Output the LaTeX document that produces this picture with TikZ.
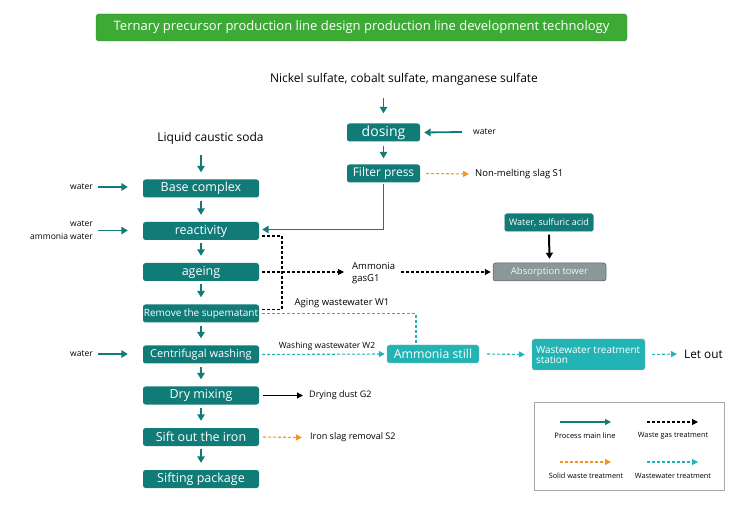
\documentclass[tikz,border=0pt]{standalone}
\usepackage{fontspec}
\setmainfont{Open Sans}
\usetikzlibrary{arrows.meta}
\definecolor{tealbox}{HTML}{117B78}
\definecolor{cyanbox}{HTML}{22B4B4}
\definecolor{titlegreen}{HTML}{3DAA35}
\definecolor{greybox}{HTML}{8A9898}
\definecolor{orangeline}{HTML}{F7941D}
\definecolor{legendborder}{HTML}{A8A8A8}
\tikzset{
  box/.style={draw=none, fill=tealbox, rounded corners=2.5pt, text=white, inner sep=0pt,
    minimum width=116pt, minimum height=18pt, font=\fontsize{12.5}{13}\selectfont},
  smallbox/.style={box, minimum width=73pt},
  cbox/.style={box, fill=cyanbox, draw=gray!60, line width=0.4pt},
  lbl/.style={inner sep=0pt, text=black},
  main/.style={draw=tealbox, line width=1.8pt, -{Triangle[length=6.5pt,width=7.5pt]}},
  gas/.style={draw=black, line width=1.1pt, dash pattern=on 3pt off 2pt},
  gasarrow/.style={gas, -{Triangle[length=6pt,width=6pt]}},
  solidarrow/.style={draw=black, line width=1.1pt, -{Triangle[length=6pt,width=6pt]}},
  thickarrow/.style={draw=black, line width=2pt, -{Triangle[length=6pt,width=7pt]}},
  ww/.style={draw=cyanbox, line width=1.1pt, dash pattern=on 3pt off 2pt},
  wwarrow/.style={ww, -{Triangle[length=6pt,width=6pt]}},
  solid waste/.style={draw=orangeline, line width=1.1pt, dash pattern=on 3pt off 2pt, -{Triangle[length=6pt,width=6pt]}},
}
\begin{document}
\begin{tikzpicture}[x=1pt,y=-1pt]
\useasboundingbox (0,0) rectangle (750,521);

% title
\node[fill=titlegreen, draw=titlegreen!80!black, line width=0.4pt, rounded corners=3pt, text=white,
  minimum width=531pt, minimum height=27pt, inner sep=0pt, font=\fontsize{13}{14}\selectfont]
  (title) at (361.5,27.5) {Ternary precursor production line design production line development technology};

% top right feed
\node[lbl, font=\fontsize{12}{13}\selectfont] (nickel) at (404,79) {Nickel sulfate, cobalt sulfate, manganese sulfate};
\node[smallbox, font=\fontsize{14}{15}\selectfont] (dosing) at (383.5,132.5) {dosing};
\node[smallbox, font=\fontsize{12}{13}\selectfont] (filter) at (383.5,173.5) {Filter press};
\node[lbl, anchor=west, font=\fontsize{8.5}{10}\selectfont] (wdos) at (473,132) {water};
\node[lbl, anchor=west, font=\fontsize{9.5}{10}\selectfont] (slag1) at (475,174) {Non-melting slag S1};

\draw[main] (dosing.north |- 0,98) -- ([yshift=10pt]dosing.north);
\draw[main] ([xshift=-11pt]wdos.west) -- ([xshift=4pt]dosing.east);
\draw[main] ([yshift=-4pt]dosing.south) -- ([yshift=6pt]filter.north);
\draw[solid waste] ([xshift=6pt]filter.east) -- ([xshift=-6pt]slag1.west);

% left column
\node[lbl, font=\fontsize{12}{13}\selectfont] (soda) at (210.5,138) {Liquid caustic soda};
\node[box] (base) at (201,188.5) {Base complex};
\node[box] (react) at (201,231) {reactivity};
\node[box] (age) at (201,272) {ageing};
\node[box, font=\fontsize{10}{11}\selectfont] (rm) at (201,313.5) {Remove the supematant};
\node[box, font=\fontsize{11}{12}\selectfont] (cw) at (201,354.5) {Centrifugal washing};
\node[box] (dry) at (201,395.5) {Dry mixing};
\node[box] (sift) at (201,437) {Sift out the iron};
\node[box] (pack) at (201,479) {Sifting package};

\draw[main] (base.north |- 0,155) -- ([yshift=7pt]base.north);
\draw[main] ([yshift=-3pt]base.south) -- ([yshift=7pt]react.north);
\draw[main] ([yshift=-3pt]react.south) -- ([yshift=7pt]age.north);
\draw[main] ([yshift=-3pt]age.south) -- ([yshift=7pt]rm.north);
\draw[main] ([yshift=-3pt]rm.south) -- ([yshift=7pt]cw.north);
\draw[main] ([yshift=-3pt]cw.south) -- ([yshift=7pt]dry.north);
\draw[main] ([yshift=-3pt]dry.south) -- ([yshift=7pt]sift.north);
\draw[main] ([yshift=-3pt]sift.south) -- ([yshift=7pt]pack.north);

% water inputs
\node[lbl, anchor=east, font=\fontsize{8.5}{10}\selectfont] (w1) at (93,187) {water};
\node[lbl, anchor=east, align=right, font=\fontsize{8.5}{13}\selectfont] (w2) at (93,230.5) {water\\ammonia water};
\node[lbl, anchor=east, font=\fontsize{8.5}{10}\selectfont] (w3) at (93,354) {water};
\draw[main] ([xshift=5pt]w1.east) -- ([xshift=-15pt]base.west |- w1.east);
\draw[main] ([xshift=5pt]w2.east) -- ([xshift=-15pt]react.west |- w2.east);
\draw[main] ([xshift=5pt]w3.east) -- ([xshift=-15pt]cw.west |- w3.east);

% filter press to reactivity
\draw[main] ([yshift=-1pt]filter.south) |- ([xshift=3pt,yshift=1.5pt]react.east);

% waste gas
\coordinate (jx) at (282,0);
\coordinate (ga) at ([xshift=3pt,yshift=-5pt]react.east);
\coordinate (gb) at ([xshift=3pt,yshift=-5pt]rm.north east);
\draw[gas] (ga) -- (ga -| jx) -- (gb -| jx) -- (gb);
\node[lbl, anchor=west, align=left, font=\fontsize{9.5}{12}\selectfont] (g1) at (352,273) {Ammonia\\gasG1};
\node[box, fill=greybox, draw=gray!70!black, line width=0.5pt, minimum width=113pt, font=\fontsize{9.5}{11}\selectfont, text=white!92!gray] (abs) at (549.5,272) {Absorption tower};
\node[box, minimum width=89pt, draw=gray!70, line width=0.4pt, font=\fontsize{9}{11}\selectfont] (acid) at (549,222.5) {Water, sulfuric acid};
\draw[gasarrow] ([xshift=3pt]age.east) -- ([xshift=-8pt]g1.west |- age.east);
\draw[gasarrow] ([xshift=6pt]g1.east |- abs.west) -- ([xshift=-2pt]abs.west);
\draw[thickarrow] ([yshift=-3pt]acid.south) -- ([yshift=4pt]abs.north);

% wastewater
\node[cbox, minimum width=92pt, font=\fontsize{12.3}{13}\selectfont] (still) at (433,354) {Ammonia still};
\node[cbox, minimum width=113pt, minimum height=31pt, align=left, font=\fontsize{10}{10}\selectfont] (wts) at (588.5,354.5) {\makebox[105pt][l]{Wastewater treatment}\\\makebox[105pt][l]{station}};
\node[lbl, anchor=west, font=\fontsize{11.8}{13}\selectfont] (out) at (684,354) {Let out};
\coordinate (cx) at (416,0);
\draw[ww] ([xshift=3pt]rm.east) -- (rm.east -| cx) -- (cx |- still.north);
\node[lbl, font=\fontsize{9.5}{11}\selectfont] (lw1) at (342,303) {Aging wastewater W1};
\node[lbl, font=\fontsize{8.5}{10}\selectfont] (lw2) at (327,346) {Washing wastewater W2};
\draw[wwarrow] ([xshift=3pt]cw.east) -- ([xshift=-2pt]still.west);
\draw[wwarrow] ([xshift=8pt]still.east) -- ([xshift=-7pt]wts.west);
\draw[wwarrow] ([xshift=7pt]wts.east) -- ([xshift=-7pt]out.west);

% dry dust and iron slag
\node[lbl, anchor=west, font=\fontsize{9}{10}\selectfont] (dust) at (309,395.5) {Drying dust G2};
\node[lbl, anchor=west, font=\fontsize{9.1}{10}\selectfont] (ironslag) at (310,437.5) {Iron slag removal S2};
\draw[solidarrow] ([xshift=4pt]dry.east) -- ([xshift=-6pt]dust.west);
\draw[solid waste] ([xshift=4pt]sift.east) -- ([xshift=-8pt]ironslag.west);

% legend
\node[draw=legendborder, line width=0.8pt, minimum width=190pt, minimum height=88pt, inner sep=0pt] (legend) at (629,446) {};
\coordinate (l1a) at (560,422); \coordinate (l1b) at (611,422);
\coordinate (l2a) at (647,422); \coordinate (l2b) at (698,422);
\coordinate (l3a) at (560,462); \coordinate (l3b) at (611,462);
\coordinate (l4a) at (647,462); \coordinate (l4b) at (698,462);
\draw[draw=tealbox, line width=1.2pt, -{Triangle[length=6pt,width=6pt]}] (l1a) -- (l1b);
\draw[gasarrow] (l2a) -- (l2b);
\draw[solid waste] (l3a) -- (l3b);
\draw[wwarrow] (l4a) -- (l4b);
\node[lbl, font=\fontsize{7.5}{8}\selectfont] (t1) at (585,436) {Process main line};
\node[lbl, font=\fontsize{7.3}{8}\selectfont] (t2) at (673,436) {Waste gas treatment};
\node[lbl, font=\fontsize{7.3}{8}\selectfont] (t3) at (586,476) {Solid waste treatment};
\node[lbl, font=\fontsize{7.3}{8}\selectfont] (t4) at (673,476) {Wastewater treatment};
\end{tikzpicture}
\end{document}
